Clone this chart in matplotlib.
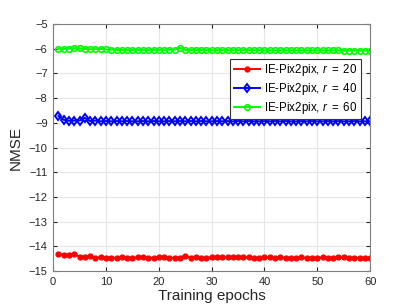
import matplotlib
matplotlib.use('Agg')
from matplotlib import pyplot as plt
import numpy as np

plt.rcParams['font.family'] = ['Liberation Sans', 'DejaVu Sans']
plt.rcParams['mathtext.fontset'] = 'custom'
plt.rcParams['mathtext.it'] = 'Liberation Sans:italic'
plt.rcParams['mathtext.rm'] = 'Liberation Sans'

epochs = np.arange(1, 61)

nmse_r20 = [-14.32, -14.33, -14.35, -14.30, -14.42, -14.41, -14.40, -14.46, -14.45, -14.46,
            -14.46, -14.46, -14.45, -14.46, -14.46, -14.45, -14.44, -14.46, -14.46, -14.45,
            -14.45, -14.46, -14.46, -14.46, -14.37, -14.46, -14.45, -14.46, -14.46, -14.45,
            -14.44, -14.45, -14.45, -14.44, -14.43, -14.45, -14.45, -14.46, -14.46, -14.45,
            -14.45, -14.46, -14.45, -14.46, -14.46, -14.46, -14.45, -14.46, -14.46, -14.46,
            -14.45, -14.46, -14.46, -14.45, -14.45, -14.46, -14.46, -14.46, -14.46, -14.46]

nmse_r40 = [-8.72, -8.88, -8.92, -8.91, -8.91, -8.80, -8.93, -8.91, -8.94, -8.93,
            -8.94, -8.93, -8.94, -8.93, -8.94, -8.94, -8.93, -8.94, -8.93, -8.94,
            -8.94, -8.93, -8.94, -8.93, -8.94, -8.93, -8.94, -8.93, -8.94, -8.94,
            -8.93, -8.94, -8.93, -8.94, -8.93, -8.94, -8.93, -8.94, -8.94, -8.93,
            -8.94, -8.93, -8.94, -8.93, -8.94, -8.94, -8.93, -8.94, -8.93, -8.94,
            -8.94, -8.93, -8.94, -8.93, -8.94, -8.94, -8.93, -8.94, -8.94, -8.94]

nmse_r60 = [-6.00, -6.01, -6.00, -5.98, -5.99, -6.01, -6.02, -6.02, -6.01, -6.03,
            -6.04, -6.05, -6.05, -6.05, -6.05, -6.05, -6.05, -6.05, -6.05, -6.05,
            -6.05, -6.04, -6.04, -5.97, -6.05, -6.06, -6.05, -6.05, -6.06, -6.06,
            -6.06, -6.06, -6.06, -6.06, -6.06, -6.06, -6.06, -6.06, -6.06, -6.07,
            -6.07, -6.07, -6.07, -6.07, -6.07, -6.07, -6.07, -6.07, -6.07, -6.07,
            -6.07, -6.07, -6.07, -6.07, -6.08, -6.08, -6.08, -6.08, -6.08, -6.08]

fig = plt.figure(figsize=(4.09, 3.07), dpi=100)
ax = fig.add_axes([0.13, 0.117, 0.775, 0.805])

ax.plot(epochs, nmse_r20, color='r', marker='.', markersize=7, lw=1.4,
        label=r'IE-Pix2pix, $\mathit{r}$ $\mathit{=}$ $\mathit{20}$')
ax.plot(epochs, nmse_r40, color='b', marker='d', markersize=4.5, mfc='none', mew=1.4, lw=1.4,
        label=r'IE-Pix2pix, $\mathit{r}$ $\mathit{=}$ $\mathit{40}$')
ax.plot(epochs, nmse_r60, color='#00ff00', marker='o', markersize=4, mfc='none', mew=1.2, lw=1.4,
        label=r'IE-Pix2pix, $\mathit{r}$ $\mathit{=}$ $\mathit{60}$')

ax.set_xlim(0, 60)
ax.set_ylim(-15, -5)
ax.set_xticks(np.arange(0, 61, 10))
ax.set_yticks(np.arange(-15, -4, 1))
ax.grid(True, color='#e6e6e6', lw=0.8)
ax.set_axisbelow(True)
ax.tick_params(direction='in', length=3, labelsize=8, colors='#262626', top=True, right=True,
               labeltop=False, labelright=False, pad=4)
for s in ax.spines.values():
    s.set_color('#808080')
    s.set_linewidth(0.8)

ax.set_xlabel('Training epochs', fontsize=11, color='#262626', labelpad=2)
ax.set_ylabel('NMSE', fontsize=11, color='#262626', labelpad=4)

leg = ax.legend(loc='upper right', bbox_to_anchor=(0.97, 0.86), fontsize=8.3, fancybox=False,
                framealpha=1, edgecolor='#333333', borderpad=0.3, handlelength=2.3,
                handletextpad=0.3, labelspacing=0.25, borderaxespad=0)
leg.get_frame().set_linewidth(0.8)

fig.savefig('out.png', dpi=100)
